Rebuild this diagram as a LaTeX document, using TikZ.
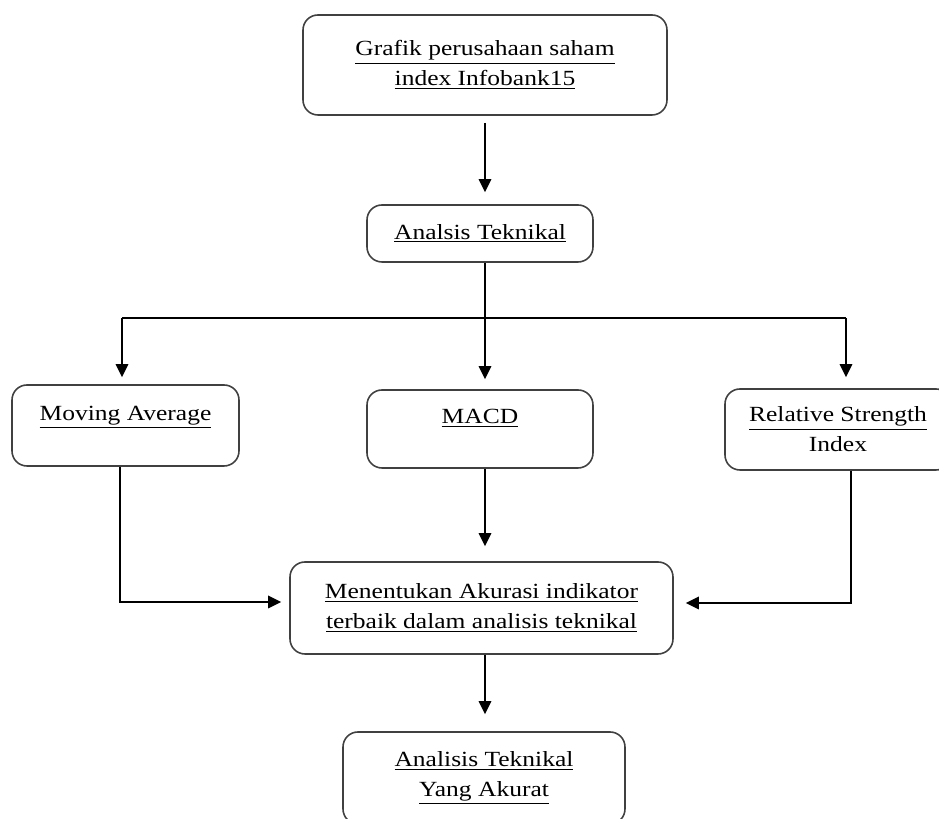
\documentclass[tikz,border=0pt]{standalone}
\usepackage{fontspec}
\setmainfont{Liberation Serif}[FakeStretch=1.18]
\usetikzlibrary{arrows.meta}

\tikzset{
  stepbox/.style={draw=black!75,line width=0.9pt,rounded corners=0.3cm,
                  align=center,inner sep=2pt,font=\fontsize{12.3}{17}\selectfont},
  arr/.style={-{Triangle[length=0.26cm,width=0.25cm]}}
}

\begin{document}
\begin{tikzpicture}[line width=1pt]
\clip (0,0) rectangle (18.78,16.38);
% ---------- boxes ----------
\node[stepbox,minimum width=7.28cm,minimum height=2.00cm] (grafik) at (9.70,15.08)
  {\underline{Grafik perusahaan saham}\\\underline{index Infobank15}};
\node[stepbox,minimum width=4.52cm,minimum height=1.14cm] (analsis) at (9.60,11.71)
  {\underline{Analsis Teknikal}};
% three indicators
\node[stepbox,minimum width=4.54cm,minimum height=1.62cm] (ma) at (2.51,7.87)
  {\underline{Moving Average}\\[-8pt]\strut};
\node[stepbox,minimum width=4.52cm,minimum height=1.56cm] (macd) at (9.60,7.80)
  {\underline{MACD}\\[-8pt]\strut};
\node[stepbox,minimum width=4.52cm,minimum height=1.62cm] (rsi) at (16.76,7.79)
  {\underline{Relative Strength}\\Index};
% result boxes
\node[stepbox,minimum width=7.66cm,minimum height=1.84cm] (akurasi) at (9.63,4.22)
  {\underline{Menentukan Akurasi indikator}\\\underline{terbaik dalam analisis teknikal}};
\node[stepbox,minimum width=5.64cm,minimum height=1.84cm] (hasil) at (9.68,0.82)
  {\underline{Analisis Teknikal}\\\underline{Yang Akurat}};
% ---------- connectors ----------
\coordinate (split) at (9.70,10.02);
\coordinate (splitL) at (2.44,10.02);
\coordinate (splitR) at (16.92,10.02);
\coordinate (maBend) at (2.40,4.34);
\coordinate (rsiBend) at (17.02,4.32);
\draw[arr,shorten <=0.14cm,shorten >=0.24cm] (grafik.south) -- (grafik.south |- analsis.north);
\draw (splitL) -- (splitR);
\draw[arr,shorten >=0.2cm] (analsis.south -| split) -- (split |- macd.north);
\draw[arr,shorten >=0.14cm] (splitL) -- (splitL |- ma.north);
\draw[arr,shorten >=0.22cm] (splitR) -- (splitR |- rsi.north);
% into the accuracy box
\draw[arr,shorten >=0.16cm] (maBend |- ma.south) -- (maBend) -- (maBend -| akurasi.west);
\draw[arr,shorten >=0.24cm] (rsiBend |- rsi.south) -- (rsiBend) -- (rsiBend -| akurasi.east);
\draw[arr,shorten >=0.3cm] (macd.south -| split) -- (split |- akurasi.north);
\draw[arr,shorten >=0.34cm] (akurasi.south -| split) -- (split |- hasil.north);
\end{tikzpicture}
\end{document}
